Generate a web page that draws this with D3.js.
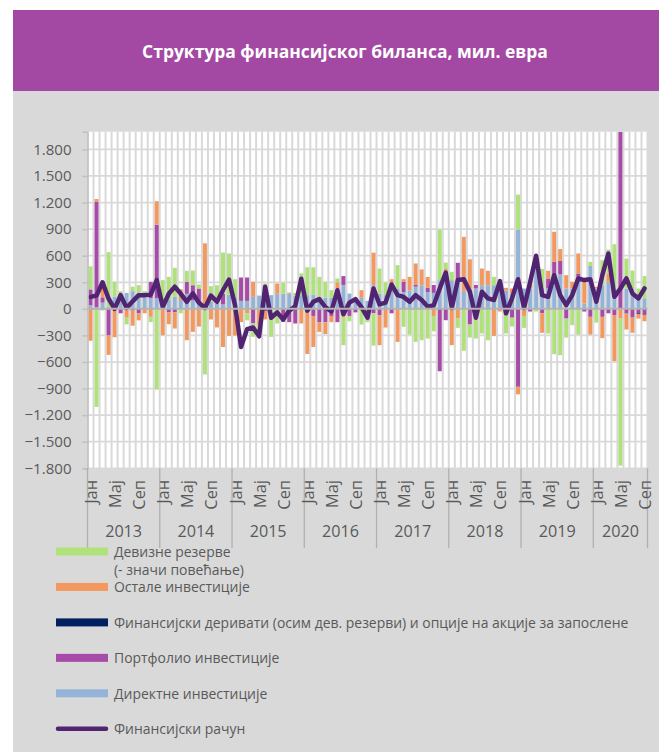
<!DOCTYPE html>
<html>
<head>
<meta charset="utf-8">
<script src="https://cdn.jsdelivr.net/npm/d3@7"></script>
<style>
body{margin:0;background:#fff;}
svg{display:block;font-family:"Open Sans",sans-serif;}
</style>
</head>
<body>
<svg id="chart" width="659" height="752"></svg>
<script>
// categories
var years = ['2013','2014','2015','2016','2017','2018','2019','2020'];
var monthNames = ['Јан','Феб','Мар','Апр','Мај','Јун','Јул','Авг','Сеп','Окт','Нов','Дец'];
var yTicks = [-1800,-1500,-1200,-900,-600,-300,0,300,600,900,1200,1500,1800];

// series, mil. EUR, Jan 2013 - Sep 2020 (one row per year)
var direct = [
  40,20,70,20,140,150,180,200,150,150,120,120,
  100,100,135,100,170,100,80,30,80,60,50,160,
  130,90,90,135,150,210,155,170,170,174,150,155,
  155,163,135,127,125,230,270,173,120,125,90,267,
  173,155,290,230,190,210,250,267,190,180,324,300,
  324,305,203,230,230,267,267,267,267,210,173,895,
  230,230,450,237,230,388,390,230,230,350,60,485,
  230,267,305,230,0,230,230,170,120];
var portfolio = [
  180,1190,60,-300,0,-50,0,-20,-50,0,185,830,
  0,-40,-40,0,135,167,150,0,0,0,120,0,
  0,264,264,-165,0,-30,0,0,-147,-150,-165,0,
  0,-80,-150,-150,-80,-150,100,-80,-40,0,0,-50,
  -70,0,-50,0,115,0,20,0,50,90,-704,-128,
  0,215,0,-177,40,0,0,0,0,0,-100,-880,
  0,-30,50,-50,113,142,150,-110,0,50,-30,-90,
  0,-90,-50,-70,2000,-50,-90,-50,-65];
var derivatives = [
  0,0,0,0,0,0,0,0,0,0,0,0,
  0,0,0,0,0,0,0,0,0,0,0,0,
  0,0,0,0,0,0,0,0,0,0,0,0,
  0,0,0,0,0,0,0,0,0,0,0,0,
  0,0,0,0,0,0,0,0,0,0,0,0,
  0,0,0,0,0,0,0,0,0,0,0,0,
  0,0,0,0,0,0,0,0,0,0,0,0,
  0,0,0,0,0,-3,-6,-8,-4];
var other = [
  -360,30,160,-220,-320,0,-100,-170,-80,-50,-90,265,
  -297,-133,-182,120,-354,-260,-200,710,-120,-210,-430,-305,
  -300,-150,-50,170,-180,-90,0,116,0,10,0,-165,
  -509,-350,-110,-134,-70,70,-90,0,0,86,0,367,
  -340,-211,45,-373,30,151,242,178,120,-80,0,150,
  -410,-110,610,330,0,188,163,-305,-30,27,57,-85,
  -80,60,60,-220,87,340,135,150,75,225,275,-200,
  18,-240,95,-520,-110,-180,-174,-52,-71];
var reserves = [
  260,-1107,-20,620,165,50,-75,50,117,50,-60,-911,
  224,261,328,-50,124,166,45,-740,176,207,466,465,
  205,0,-80,-150,-60,76,-316,-165,124,0,30,245,
  314,306,226,178,86,43,-320,-60,0,-177,-150,-365,
  282,142,0,263,-203,-290,-373,-354,-335,-173,571,73,
  94,-105,-473,-147,-335,-278,-354,94,68,-278,-100,395,
  -135,0,-30,213,-278,-512,-523,-215,-184,-290,0,45,
  -155,283,270,500,-1660,338,203,60,250];
var financial = [
  135,150,300,115,0,155,10,85,155,155,160,324,
  20,170,250,170,80,175,70,10,150,80,210,330,
  40,-430,-230,-210,-310,250,-100,-40,-120,-20,30,340,
  -20,80,110,20,-30,210,-60,70,110,20,-100,230,
  50,70,275,155,135,80,155,100,25,40,230,410,
  10,325,335,193,-100,193,118,100,313,-50,118,335,
  10,300,600,155,136,380,155,43,155,343,325,335,
  80,380,625,136,230,343,173,118,230];

var W = 659, H = 752;
var pL = 87.5, pR = 647.5, pT = 131.7, pB = 468.3;
var grey = '#595959';

var svg = d3.select('#chart');
svg.append('rect').attr('width',W).attr('height',H).attr('fill','#fff');
svg.append('rect').attr('x',13).attr('y',10).attr('width',W-13).attr('height',81).attr('fill','#a349a4');
svg.append('rect').attr('x',13).attr('y',91).attr('width',W-13).attr('height',H-91).attr('fill','#d9d9d9');

function fit(sel, target){
	var w = sel.node().getComputedTextLength();
	var fs = parseFloat(sel.attr('font-size'));
	var nf = fs*target/w;
	sel.attr('font-size', nf);
	return nf;
}

var title = svg.append('text')
	.attr('x',345).attr('y',51)
	.attr('text-anchor','middle').attr('dominant-baseline','central')
	.attr('font-size',16).attr('font-weight','bold').attr('fill','#fff')
	.text('Структура финансијског биланса, мил. евра');
fit(title, 406);

var n = direct.length;
var rows = d3.range(n).map(function(i){
	return {i:i, direct:direct[i], portfolio:portfolio[i], derivatives:derivatives[i], other:other[i], reserves:reserves[i]};
});
var keys = ['direct','portfolio','derivatives','other','reserves'];
var colors = {direct:'#95b3d7', portfolio:'#a64ba8', derivatives:'#002060', other:'#f3995f', reserves:'#afe27a'};

var x = d3.scaleBand().domain(d3.range(n)).range([pL,pR]).paddingInner(0.34).paddingOuter(0.17);
var xb = d3.scaleLinear().domain([0,n]).range([pL,pR]);
var y = d3.scaleLinear().domain([-1800,2000]).range([pB,pT]);

// plot area
svg.append('rect').attr('x',pL).attr('y',pT).attr('width',pR-pL).attr('height',pB-pT).attr('fill','#fff');
svg.append('clipPath').attr('id','clip').append('rect')
	.attr('x',pL).attr('y',pT).attr('width',pR-pL).attr('height',pB-pT);

svg.append('g').selectAll('line').data(d3.range(n+1)).enter().append('line')
	.attr('x1',function(d){ return xb(d) }).attr('x2',function(d){ return xb(d) })
	.attr('y1',pT).attr('y2',pB)
	.attr('stroke','#d9d9d9').attr('stroke-width',2);
svg.append('g').selectAll('line').data(yTicks).enter().append('line')
	.attr('x1',pL).attr('x2',pR)
	.attr('y1',function(d){ return y(d) }).attr('y2',function(d){ return y(d) })
	.attr('stroke','#d9d9d9').attr('stroke-width',1.75);

var series = d3.stack().keys(keys).offset(d3.stackOffsetDiverging)(rows);
var plot = svg.append('g').attr('clip-path','url(#clip)');
plot.selectAll('.series').data(series).enter().append('g')
	.attr('class','series')
	.attr('fill',function(s){ return colors[s.key] })
  .selectAll('rect').data(function(s){ return s }).enter().append('rect')
	.attr('x',function(d){ return x(d.data.i) })
	.attr('width',x.bandwidth())
	.attr('y',function(d){ return y(Math.max(d[0],d[1])) })
	.attr('height',function(d){ return Math.abs(y(d[0])-y(d[1])) });

// zero line
svg.append('line').attr('x1',pL).attr('x2',pR).attr('y1',y(0)).attr('y2',y(0))
	.attr('stroke','#b3b3b3').attr('stroke-width',2);

var line = d3.line()
	.x(function(d,i){ return x(i)+x.bandwidth()/2 })
	.y(function(d){ return y(d) });
plot.append('path').datum(financial)
	.attr('d',line).attr('fill','none')
	.attr('stroke','#512472').attr('stroke-width',4.5)
	.attr('stroke-linejoin','round').attr('stroke-linecap','round');

// y axis
var yAxis = d3.axisLeft(y).tickValues(yTicks).tickSize(5).tickPadding(11)
	.tickFormat(function(d){ return d3.format(',')(d).replace(/,/g,'.') });
var ya = svg.append('g').attr('transform','translate('+pL+',0)').call(yAxis);
ya.select('.domain').attr('stroke','#bfbfbf').attr('stroke-width',1.5);
ya.selectAll('.tick line').attr('stroke','#bfbfbf').attr('stroke-width',1.5);
ya.selectAll('text').attr('fill',grey).attr('font-family','"Open Sans",sans-serif').attr('font-size',15);
var yfs = fit(ya.selectAll('.tick text').filter(function(d){ return d === -1800 }), 47);
ya.selectAll('text').attr('font-size',yfs);

// category axis: months + years
var seps = d3.range(0,n,12).concat([n]);
svg.append('g').selectAll('line').data(seps).enter().append('line')
	.attr('x1',function(d){ return xb(d) }).attr('x2',function(d){ return xb(d) })
	.attr('y1',pB).attr('y2',548)
	.attr('stroke','#b0b0b0').attr('stroke-width',1.3);

var labelled = d3.range(n).filter(function(i){ return i%4 === 0 });
var mt = svg.append('g').selectAll('text').data(labelled).enter().append('text')
	.attr('transform',function(i){ return 'translate('+(x(i)+x.bandwidth()/2)+',480) rotate(-90)' })
	.attr('text-anchor','end').attr('dominant-baseline','central')
	.attr('font-size',15).attr('fill',grey)
	.text(function(i){ return monthNames[i%12] });
var mfs = fit(mt.filter(function(i){ return i === 4 }), 28);
mt.attr('font-size',mfs);

var yt = svg.append('g').selectAll('text').data(years).enter().append('text')
	.attr('x',function(d,k){ return (xb(k*12)+xb(Math.min(n,(k+1)*12)))/2 })
	.attr('y',531).attr('text-anchor','middle').attr('dominant-baseline','central')
	.attr('font-size',16).attr('fill',grey)
	.text(function(d){ return d });
var yrfs = fit(yt.filter(function(d){ return d === '2013' }), 37);
yt.attr('font-size',yrfs);

// legend
var legend = [
	{key:'reserves', label:'Девизне резерве', extra:'(- значи повећање)'},
	{key:'other', label:'Остале инвестиције'},
	{key:'derivatives', label:'Финансијски деривати (осим дев. резерви) и опције на акције за запослене'},
	{key:'portfolio', label:'Портфолио инвестиције'},
	{key:'direct', label:'Директне инвестиције'},
	{key:'line', label:'Финансијски рачун'}
];
var lg = svg.append('g');
var texts = [];
legend.forEach(function(item,k){
	var cy = 551.5 + k*35.45;
	if(item.key === 'line'){
		lg.append('line').attr('x1',58).attr('x2',106).attr('y1',cy).attr('y2',cy)
			.attr('stroke','#512472').attr('stroke-width',4.5).attr('stroke-linecap','round');
	}else{
		lg.append('rect').attr('x',56).attr('y',cy-4).attr('width',52).attr('height',8)
			.attr('fill',colors[item.key]);
	}
	texts.push(lg.append('text').attr('x',114).attr('y',cy)
		.attr('dominant-baseline','central').attr('font-size',14).attr('fill',grey)
		.text(item.label));
	if(item.extra){
		texts.push(lg.append('text').attr('x',114).attr('y',cy+17.8)
			.attr('dominant-baseline','central').attr('font-size',14).attr('fill',grey)
			.text(item.extra));
	}
});
var lfs = fit(texts[3], 515);
texts.forEach(function(t){ t.attr('font-size',lfs) });
</script>
</body>
</html>
